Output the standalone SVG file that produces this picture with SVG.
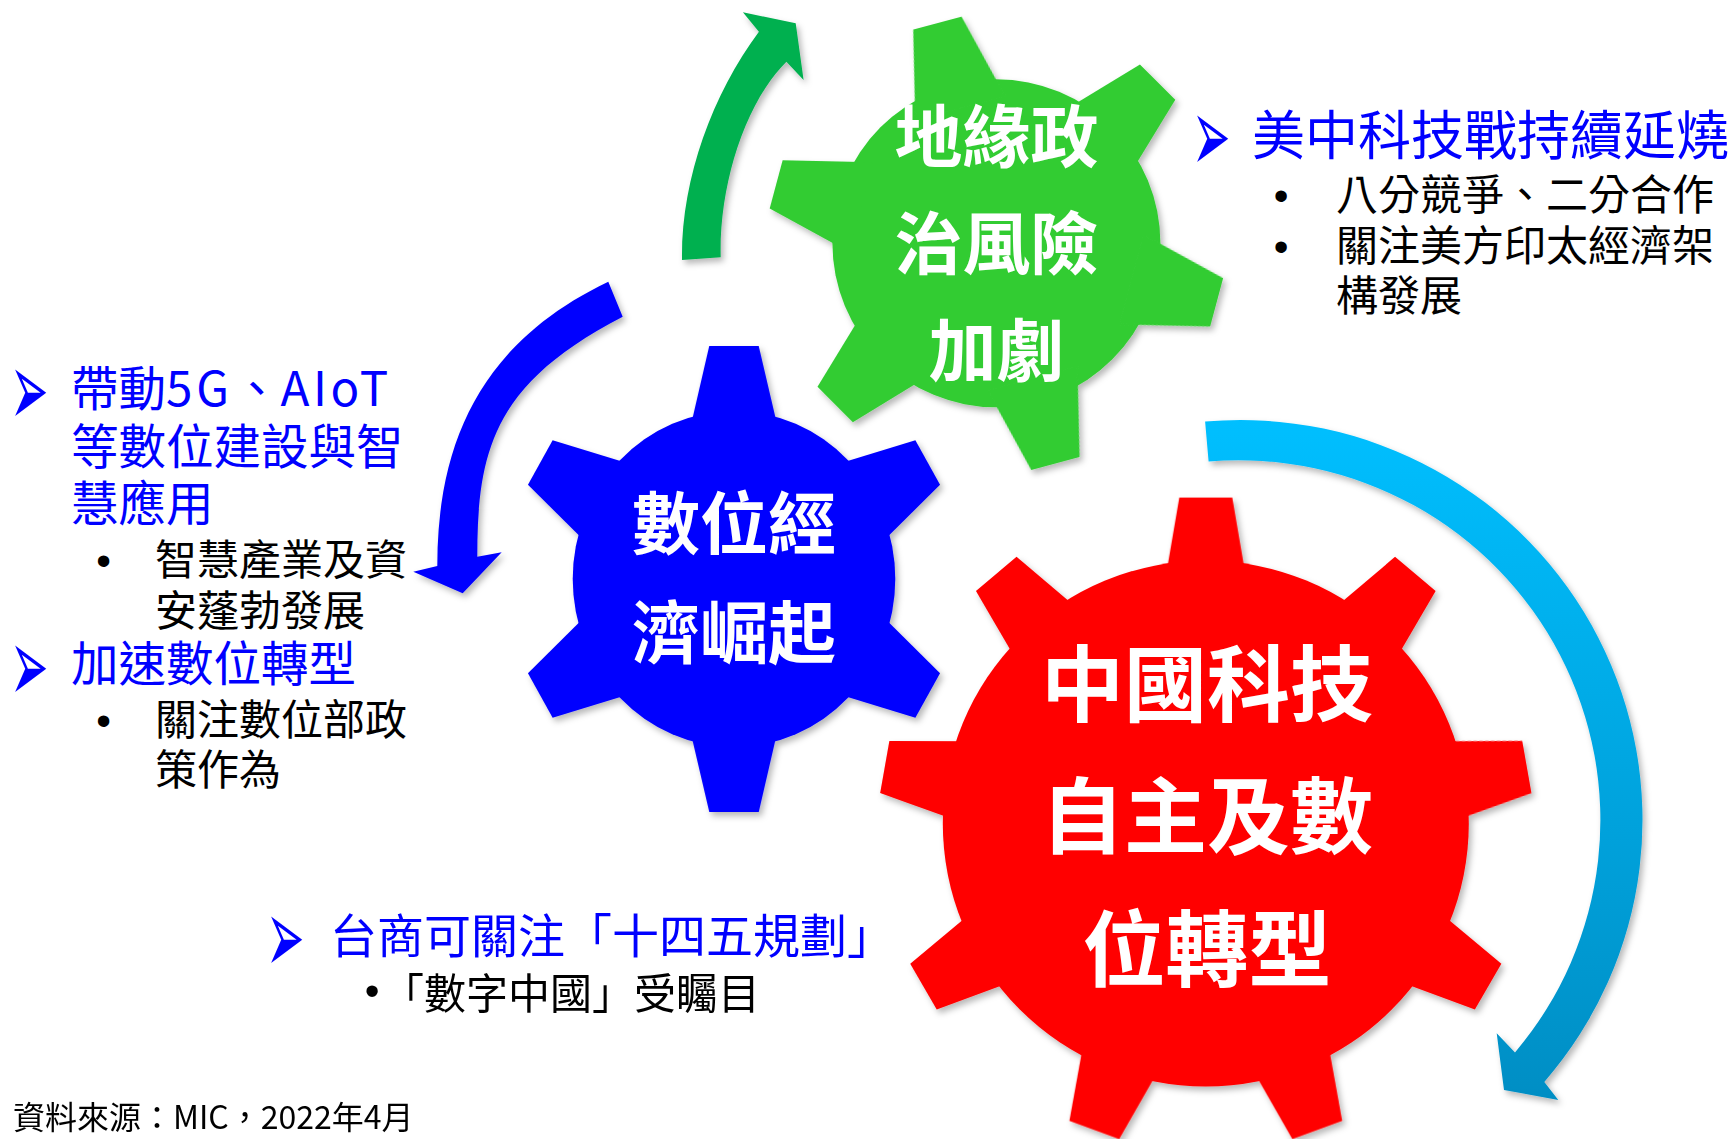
<svg xmlns="http://www.w3.org/2000/svg" xmlns:xlink="http://www.w3.org/1999/xlink" width="1736" height="1139" viewBox="0 0 1736 1139">
<defs>
<style>
text{font-family:'Noto Sans CJK TC','Noto Sans CJK SC',sans-serif}
.w{fill:#fff;font-weight:700;text-anchor:middle}
.b{fill:#0000ff}
.k{fill:#000}
.dot{font-family:'Liberation Sans',sans-serif;fill:#000;text-anchor:middle}
.ar{font-family:'DejaVu Sans',sans-serif;fill:#0000ff;font-size:46px}
</style>
<filter id="sh" x="-20%" y="-20%" width="140%" height="140%">
<feDropShadow dx="3" dy="4" stdDeviation="3" flood-color="#000" flood-opacity="0.28"/>
</filter>
<linearGradient id="cy" gradientUnits="userSpaceOnUse" x1="0" y1="420" x2="0" y2="1100">
<stop offset="0" stop-color="#00BFFF"/>
<stop offset="1" stop-color="#008EC4"/>
</linearGradient>
<polygon id="tg" points="140,-46.4 228,-25 228,25 140,46.4"/>
<polygon id="tb" points="140,-48.3 233,-25.7 233,25.7 140,48.3"/>
<polygon id="tr" points="240,-41.3 326,-26.5 326,26.5 240,41.3"/>
</defs>
<rect width="1736" height="1139" fill="#fff"/>

<g id="connectors" filter="url(#sh)">
<path id="arrow-green" fill="#00B050" d="M682,260 C681,180 712,95 758.9,31.7 L742.9,12.3 L795.7,23.3 L803.6,80 L786.4,61.7 C745,103 719,185 720.7,257.3 Z"/>
<path id="arrow-blue" fill="#0000FF" d="M608.3,281.7 C482.3,341.9 437.3,440 437.3,566 L413.3,571.7 L462.7,593.3 L501.7,552.3 L477.3,556.7 C477.3,450 493.7,383.4 622.7,316.7 Z"/>
<path id="arrow-cyan" fill="url(#cy)" d="M1205.1,421.5 A402,400 0 0 1 1544.3,1081.9 L1558.3,1100 L1504,1090 L1496.7,1033.3 L1515,1052.4 A362,360 0 0 0 1208.6,461.4 Z"/>
</g>

<g id="gear-green">
<g filter="url(#sh)"><g transform="translate(996.4,243.3)" fill="#33CC33">
<circle r="164"/>
<use xlink:href="#tg" transform="rotate(15)"/>
<use xlink:href="#tg" transform="rotate(75)"/>
<use xlink:href="#tg" transform="rotate(135)"/>
<use xlink:href="#tg" transform="rotate(195)"/>
<use xlink:href="#tg" transform="rotate(255)"/>
<use xlink:href="#tg" transform="rotate(315)"/>
</g></g>
<text class="w" x="996.4" y="162" font-size="68">地緣政</text>
<text class="w" x="996.4" y="269" font-size="68">治風險</text>
<text class="w" x="996.4" y="376" font-size="68">加劇</text>
</g>

<g id="gear-blue">
<g filter="url(#sh)"><g transform="translate(734,579) scale(0.96,1)" fill="#0000FF">
<circle r="168"/>
<use xlink:href="#tb" transform="rotate(270)"/>
<use xlink:href="#tb" transform="rotate(330)"/>
<use xlink:href="#tb" transform="rotate(30)"/>
<use xlink:href="#tb" transform="rotate(90)"/>
<use xlink:href="#tb" transform="rotate(150)"/>
<use xlink:href="#tb" transform="rotate(210)"/>
</g></g>
<text class="w" x="734" y="549" font-size="68">數位經</text>
<text class="w" x="734" y="657.5" font-size="68">濟崛起</text>
</g>

<g id="gear-red">
<g filter="url(#sh)"><g transform="translate(1205.8,823.6)" fill="#FF0000">
<circle r="263"/>
<use xlink:href="#tr" transform="rotate(270)"/>
<use xlink:href="#tr" transform="rotate(310)"/>
<use xlink:href="#tr" transform="rotate(350)"/>
<use xlink:href="#tr" transform="rotate(30)"/>
<use xlink:href="#tr" transform="rotate(70)"/>
<use xlink:href="#tr" transform="rotate(110)"/>
<use xlink:href="#tr" transform="rotate(150)"/>
<use xlink:href="#tr" transform="rotate(190)"/>
<use xlink:href="#tr" transform="rotate(230)"/>
</g></g>
<text class="w" x="1207" y="715" font-size="83">中國科技</text>
<text class="w" x="1207" y="847" font-size="83">自主及數</text>
<text class="w" x="1207" y="980" font-size="83">位轉型</text>
</g>

<g id="note-right">
<text class="ar" transform="translate(1192,172) scale(1,2.3)">➢</text>
<text class="b" x="1252" y="155" font-size="53">美中科技戰持續延燒</text>
<text class="dot" x="1281" y="210" font-size="42">•</text>
<text class="k" x="1336" y="210" font-size="42">八分競爭、二分合作</text>
<text class="dot" x="1281" y="260.5" font-size="42">•</text>
<text class="k" x="1336" y="260.5" font-size="42">關注美方印太經濟架</text>
<text class="k" x="1336" y="311" font-size="42">構發展</text>
</g>

<g id="note-left">
<text class="ar" transform="translate(10,426) scale(1,2.3)">➢</text>
<text class="b" x="71" y="406" font-size="47.5">帶動<tspan letter-spacing="4">5G</tspan>、<tspan letter-spacing="3.5">AIoT</tspan></text>
<text class="b" x="71" y="464" font-size="47.5">等數位建設與智</text>
<text class="b" x="71" y="521" font-size="47.5">慧應用</text>
<text class="dot" x="103.6" y="574.5" font-size="42">•</text>
<text class="k" x="155" y="574.5" font-size="42">智慧產業及資</text>
<text class="k" x="155" y="626" font-size="42">安蓬勃發展</text>
<text class="ar" transform="translate(10,702) scale(1,2.3)">➢</text>
<text class="b" x="71" y="681" font-size="47.5">加速數位轉型</text>
<text class="dot" x="103.6" y="735" font-size="42">•</text>
<text class="k" x="155" y="735" font-size="42">關注數位部政</text>
<text class="k" x="155" y="785" font-size="42">策作為</text>
</g>

<g id="note-bottom">
<text class="ar" transform="translate(266,973) scale(1,2.3)">➢</text>
<text class="b" x="330" y="953" font-size="47">台商可關注「十四五規劃」</text>
<text class="dot" x="372" y="1005" font-size="42">•</text>
<text class="k" x="382" y="1009" font-size="42">「數字中國」受矚目</text>
</g>

<text id="source" class="k" x="13" y="1128.5" font-size="32">資料來源：MIC，2022年4月</text>
</svg>
